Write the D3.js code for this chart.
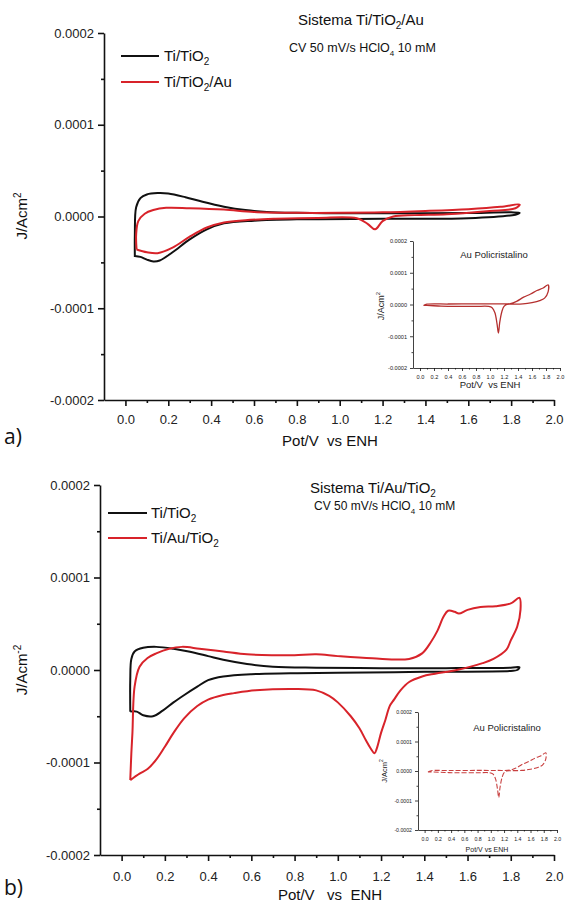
<!DOCTYPE html>
<html><head><meta charset="utf-8">
<script src="https://cdn.jsdelivr.net/npm/d3@7"></script>
<style>
body{margin:0;background:#fff;}
svg{display:block;font-family:"Liberation Sans",Arial,sans-serif;}
</style></head>
<body><svg id="c" width="566" height="910"></svg>
<script>
// ---------- DATA ----------
const xTickVals = [0.0,0.2,0.4,0.6,0.8,1.0,1.2,1.4,1.6,1.8,2.0];
const xTickLabels = ["0.0","0.2","0.4","0.6","0.8","1.0","1.2","1.4","1.6","1.8","2.0"];
const yTickVals = [0.0002,0.0001,0,-0.0001,-0.0002];
const yTickLabels = ["0.0002","0.0001","0.0000","-0.0001","-0.0002"];

// Panel a
const tiTiO2_a = [[0.044,-4.4e-5],[0.044,-2.0e-5],[0.05,1.0e-5],[0.07,2.0e-5],[0.10,2.4e-5],[0.15,2.55e-5],[0.20,2.5e-5],[0.28,2.1e-5],[0.36,1.6e-5],[0.46,1.07e-5],[0.56,7e-6],[0.66,5e-6],[0.8,4e-6],[1.0,3.5e-6],[1.2,3.5e-6],[1.4,3.5e-6],[1.6,3.8e-6],[1.8,4.5e-6],[1.84,4e-6],
  [1.82,2e-6],[1.6,-2e-6],[1.2,-2.5e-6],[0.8,-3e-6],[0.6,-4.5e-6],[0.46,-7.5e-6],[0.38,-1.4e-5],[0.30,-2.5e-5],[0.22,-3.9e-5],[0.16,-4.8e-5],[0.13,-4.9e-5],[0.10,-4.7e-5],[0.07,-4.4e-5],[0.044,-4.3e-5]];
const tiTiO2Au_a = [[0.052,-3.6e-5],[0.05,-2.0e-5],[0.06,-5e-6],[0.09,3e-6],[0.13,7e-6],[0.19,9.5e-6],[0.30,9e-6],[0.46,7.5e-6],[0.6,5e-6],[0.8,4e-6],[1.0,4e-6],[1.2,4.5e-6],[1.4,6e-6],[1.6,8e-6],[1.75,1.05e-5],[1.84,1.3e-5],
  [1.82,9e-6],[1.7,6e-6],[1.5,2.5e-6],[1.35,1.5e-6],[1.25,0],[1.2,-5e-6],[1.165,-1.4e-5],[1.13,-8e-6],[1.08,-2e-6],[0.9,-1.5e-6],[0.7,-2.5e-6],[0.56,-4e-6],[0.46,-6.5e-6],[0.38,-1.2e-5],[0.30,-2.2e-5],[0.22,-3.4e-5],[0.15,-4e-5],[0.10,-3.9e-5],[0.052,-3.6e-5]];

// Panel b
const tiTiO2_b = [[0.04,-4.5e-5],[0.04,-1.0e-5],[0.045,1.2e-5],[0.06,2.0e-5],[0.10,2.4e-5],[0.16,2.5e-5],[0.24,2.3e-5],[0.31,2.0e-5],[0.40,1.5e-5],[0.47,1.1e-5],[0.58,6.5e-6],[0.70,3.6e-6],[0.9,2.5e-6],[1.2,2e-6],[1.5,2e-6],[1.8,2.5e-6],[1.84,3e-6],
  [1.83,0],[1.8,-1e-6],[1.4,-2e-6],[1.0,-3e-6],[0.78,-3.6e-6],[0.6,-4.5e-6],[0.47,-7e-6],[0.40,-1.1e-5],[0.35,-1.8e-5],[0.29,-2.7e-5],[0.24,-3.5e-5],[0.19,-4.4e-5],[0.145,-5e-5],[0.10,-4.9e-5],[0.07,-4.5e-5],[0.04,-4.5e-5]];
const tiAuTiO2_b = [[0.04,-1.19e-4],[0.045,-9e-5],[0.05,-6.8e-5],[0.06,-1.8e-5],[0.083,3.6e-6],[0.12,1.3e-5],[0.16,1.8e-5],[0.22,2.3e-5],[0.28,2.5e-5],[0.36,2.3e-5],[0.47,2.0e-5],[0.58,1.7e-5],[0.70,1.6e-5],[0.80,1.6e-5],[0.90,1.7e-5],[1.0,1.5e-5],[1.16,1.26e-5],[1.33,1.2e-5],[1.39,1.8e-5],[1.43,3e-5],[1.46,4.2e-5],[1.49,5.8e-5],[1.51,6.4e-5],[1.54,6.3e-5],[1.56,6.1e-5],[1.60,6.5e-5],[1.66,6.8e-5],[1.73,6.9e-5],[1.80,7.2e-5],[1.84,7.8e-5],
  [1.845,6.5e-5],[1.83,4.7e-5],[1.80,3.2e-5],[1.78,2.2e-5],[1.72,1.2e-5],[1.67,7.4e-6],[1.55,0],[1.45,-4e-6],[1.39,-7e-6],[1.33,-1.3e-5],[1.29,-2.2e-5],[1.26,-3.2e-5],[1.24,-3.9e-5],[1.22,-5.4e-5],[1.20,-6.8e-5],[1.18,-8.5e-5],[1.17,-9e-5],[1.15,-8.4e-5],[1.13,-7.6e-5],[1.10,-6.3e-5],[1.06,-5e-5],[1.0,-3.5e-5],[0.96,-2.8e-5],[0.90,-2.2e-5],[0.80,-2.05e-5],[0.62,-2.2e-5],[0.52,-2.5e-5],[0.47,-2.7e-5],[0.40,-3.2e-5],[0.35,-3.9e-5],[0.29,-5.2e-5],[0.24,-6.8e-5],[0.20,-8.3e-5],[0.16,-9.7e-5],[0.12,-1.07e-4],[0.083,-1.12e-4],[0.04,-1.19e-4]];

// Inset: Au policristalino
const auPoly = [[0.05,-3e-6],[0.1,1e-6],[0.4,1.5e-6],[0.8,2e-6],[1.1,2e-6],[1.29,3e-6],[1.38,1e-5],[1.48,2.3e-5],[1.58,3.3e-5],[1.67,4.4e-5],[1.76,5.2e-5],[1.83,6.2e-5],
  [1.83,4e-5],[1.78,2e-5],[1.71,1.2e-5],[1.6,6e-6],[1.47,2e-6],[1.30,1e-6],[1.24,0],[1.20,-6e-6],[1.17,-2.2e-5],[1.14,-5.5e-5],[1.12,-9e-5],[1.10,-6e-5],[1.07,-2.6e-5],[1.03,-1e-5],[0.98,-6e-6],[0.8,-6e-6],[0.5,-6e-6],[0.3,-5e-6],[0.1,-3e-6],[0.05,-3e-6]];

// ---------- DRAW ----------
const svg = d3.select("#c");
const BLACK = "#111", RED = "#d8232a", DARKRED = "#b5302f";

function drawAxes(g, x, y, o){
  const xMinor = d3.range(1,20,2).map(d=>d/10);
  const yMinor = [0.00015,0.00005,-0.00005,-0.00015];
  g.append("g").attr("transform",`translate(0,${y(-0.0002)})`)
    .call(d3.axisBottom(x).tickValues(xMinor).tickSize(o.minor).tickFormat(""))
    .call(s=>s.select(".domain").remove());
  g.append("g").attr("transform",`translate(${x(-0.1)},0)`)
    .call(d3.axisLeft(y).tickValues(yMinor).tickSize(o.minor).tickFormat(""))
    .call(s=>s.select(".domain").remove());
  const xa = g.append("g").attr("transform",`translate(0,${y(-0.0002)})`)
    .call(d3.axisBottom(x).tickValues(xTickVals).tickSize(o.major).tickSizeOuter(0).tickPadding(o.padx)
      .tickFormat((d,i)=>xTickLabels[i]));
  const ya = g.append("g").attr("transform",`translate(${x(-0.1)},0)`)
    .call(d3.axisLeft(y).tickValues(yTickVals).tickSize(o.major).tickSizeOuter(0).tickPadding(o.pady)
      .tickFormat((d,i)=>yTickLabels[i]));
  [xa,ya].forEach(a=>{
    a.selectAll("text").attr("font-size",o.fs).attr("font-family","Liberation Sans, Arial").attr("fill","#222");
  });
  g.selectAll("line,path").attr("stroke","#111").attr("stroke-width",o.sw);
}

function curve(g,x,y,data,color,w,dash){
  const line = d3.line().x(d=>x(d[0])).y(d=>y(d[1])).curve(d3.curveCatmullRom.alpha(0.5));
  const p = g.append("path").datum(data).attr("d",line).attr("fill","none")
    .attr("stroke",color).attr("stroke-width",w).attr("stroke-linejoin","round");
  if(dash) p.attr("stroke-dasharray",dash);
}

// parts: [text, size, dy]
function rich(t, parts){
  parts.forEach(p=>t.append("tspan").attr("font-size",p[1]).attr("dy",p[2]||0).text(p[0]));
}

// ---- Panel a
{
  const x = d3.scaleLinear().domain([-0.1,2.0]).range([104,554]);
  const y = d3.scaleLinear().domain([-0.0002,0.0002]).range([400,33]);
  const g = svg.append("g");
  drawAxes(g,x,y,{major:6,minor:3,padx:9,pady:4,fs:13,sw:1.6});
  curve(g,x,y,tiTiO2_a,BLACK,2);
  curve(g,x,y,tiTiO2Au_a,RED,2);
  g.append("line").attr("x1",121).attr("x2",159).attr("y1",56).attr("y2",56).attr("stroke",BLACK).attr("stroke-width",2);
  g.append("line").attr("x1",121).attr("x2",159).attr("y1",82).attr("y2",82).attr("stroke",RED).attr("stroke-width",2);
  let t = g.append("text").attr("x",164).attr("y",61).attr("fill","#111");
  rich(t,[["Ti/TiO",15],["2",10,4]]);
  t = g.append("text").attr("x",164).attr("y",87).attr("fill","#111");
  rich(t,[["Ti/TiO",15],["2",10,4],["/Au",15,-4]]);
  t = g.append("text").attr("x",298).attr("y",25).attr("fill","#111");
  rich(t,[["Sistema Ti/TiO",15],["2",10,4],["/Au",15,-4]]);
  t = g.append("text").attr("x",289).attr("y",52).attr("fill","#111");
  rich(t,[["CV 50 mV/s HClO",12.5],["4",8,4],[" 10 mM",12.5,-4]]);
  g.append("text").attr("x",330).attr("y",446).attr("text-anchor","middle").attr("font-size",15).attr("fill","#111")
    .attr("xml:space","preserve").text("Pot/V  vs ENH");
  t = g.append("text").attr("transform","translate(27,216) rotate(-90)").attr("text-anchor","middle").attr("fill","#111");
  rich(t,[["J/Acm",15],["2",10,-6]]);
  g.append("text").attr("x",4).attr("y",444).attr("font-size",21).attr("font-family","Open Sans, DejaVu Sans").attr("fill","#111").text("a)");

  // inset a
  const xi = d3.scaleLinear().domain([-0.1,2.0]).range([413,560]);
  const yi = d3.scaleLinear().domain([-0.0002,0.0002]).range([368,241]);
  const gi = svg.append("g");
  drawAxes(gi,xi,yi,{major:3,minor:1.5,padx:4,pady:3,fs:5.6,sw:0.8});
  curve(gi,xi,yi,auPoly,DARKRED,1.3);
  gi.append("text").attr("x",494).attr("y",258).attr("text-anchor","middle").attr("font-size",9.5).attr("fill","#222").text("Au Policristalino");
  gi.append("text").attr("x",490).attr("y",388).attr("text-anchor","middle").attr("font-size",9.5).attr("fill","#222")
    .attr("xml:space","preserve").text("Pot/V  vs ENH");
  t = gi.append("text").attr("transform","translate(384,306) rotate(-90)").attr("text-anchor","middle").attr("fill","#222");
  rich(t,[["J/Acm",9],["2",6,-4]]);
}

// ---- Panel b
{
  const x = d3.scaleLinear().domain([-0.1,2.0]).range([100,554]);
  const y = d3.scaleLinear().domain([-0.0002,0.0002]).range([855,485]);
  const g = svg.append("g");
  drawAxes(g,x,y,{major:6,minor:3,padx:11,pady:4,fs:13,sw:1.6});
  curve(g,x,y,tiTiO2_b,BLACK,2);
  curve(g,x,y,tiAuTiO2_b,RED,2);
  g.append("line").attr("x1",108).attr("x2",147).attr("y1",513).attr("y2",513).attr("stroke",BLACK).attr("stroke-width",2);
  g.append("line").attr("x1",108).attr("x2",147).attr("y1",538).attr("y2",538).attr("stroke",RED).attr("stroke-width",2);
  let t = g.append("text").attr("x",151).attr("y",518).attr("fill","#111");
  rich(t,[["Ti/TiO",15],["2",10,4]]);
  t = g.append("text").attr("x",151).attr("y",543).attr("fill","#111");
  rich(t,[["Ti/Au/TiO",15],["2",10,4]]);
  t = g.append("text").attr("x",310).attr("y",493).attr("fill","#111");
  rich(t,[["Sistema Ti/Au/TiO",15],["2",10,4]]);
  t = g.append("text").attr("x",314).attr("y",510).attr("fill","#111");
  rich(t,[["CV 50 mV/s HClO",12],["4",8,4],[" 10 mM",12,-4]]);
  g.append("text").attr("x",330).attr("y",900).attr("text-anchor","middle").attr("font-size",15).attr("fill","#111")
    .attr("xml:space","preserve").text("Pot/V   vs  ENH");
  t = g.append("text").attr("transform","translate(27,670) rotate(-90)").attr("text-anchor","middle").attr("fill","#111");
  rich(t,[["J/Acm",15],["-2",10,-6]]);
  g.append("text").attr("x",4).attr("y",895).attr("font-size",21).attr("font-family","Open Sans, DejaVu Sans").attr("fill","#111").text("b)");

  const xi = d3.scaleLinear().domain([-0.1,2.0]).range([418,557]);
  const yi = d3.scaleLinear().domain([-0.0002,0.0002]).range([830,712]);
  const gi = svg.append("g");
  drawAxes(gi,xi,yi,{major:3,minor:1.5,padx:4,pady:3,fs:5.2,sw:0.8});
  curve(gi,xi,yi,auPoly,"#c84040",1.1,"5,2");
  gi.append("text").attr("x",507).attr("y",731).attr("text-anchor","middle").attr("font-size",9.5).attr("fill","#222").text("Au Policristalino");
  gi.append("text").attr("x",487).attr("y",852).attr("text-anchor","middle").attr("font-size",7).attr("fill","#222")
    .attr("xml:space","preserve").text("Pot/V vs ENH");
  t = gi.append("text").attr("transform","translate(387,771) rotate(-90)").attr("text-anchor","middle").attr("fill","#222");
  rich(t,[["J/Acm",7.5],["2",5,-4]]);
}
</script></body></html>
